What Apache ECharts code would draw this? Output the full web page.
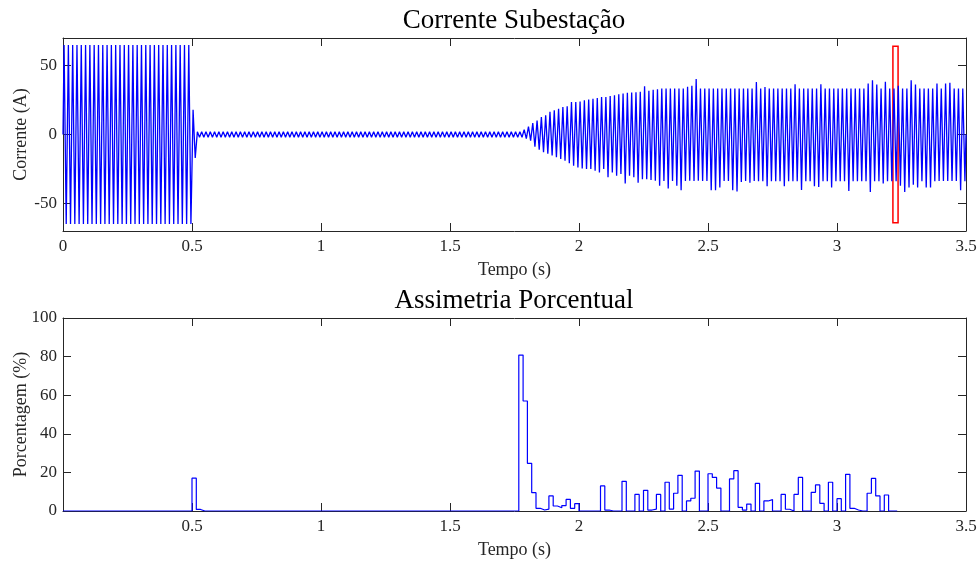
<!DOCTYPE html>
<html>
<head>
<meta charset="utf-8">
<script src="https://cdn.jsdelivr.net/npm/echarts@6/dist/echarts.min.js"></script>
<style>
  html, body { margin: 0; padding: 0; background: #fff; }
  #chart { width: 979px; height: 561px; }
</style>
</head>
<body>
<div id="chart"></div>
<script>
// frequencia da rede (Hz): um pico positivo e um negativo por ciclo
var freq = 60;

// picos positivos por ciclo (A), ciclos 0..209 (0 a 3.5 s)
var posPeak = [
    65, 65, 65, 65, 65, 65, 65, 65, 65, 65, 65, 65, 65, 65, 65,
    65, 65, 65, 65, 65, 65, 65, 65, 65, 65, 65, 65, 65, 65, 65,
    18,
    2, 2, 2, 2, 2, 2, 2, 2, 2, 2, 2, 2, 2, 2, 2, 2, 2, 2, 2,
    2, 2, 2, 2, 2, 2, 2, 2, 2, 2, 2, 2, 2, 2, 2, 2, 2, 2, 2,
    2, 2, 2, 2, 2, 2, 2, 2, 2, 2, 2, 2, 2, 2, 2, 2, 2, 2, 2,
    2, 2, 2, 2, 2, 2, 2, 2, 2, 2, 2, 2, 2, 2, 2, 2, 2, 2, 2,
    3.5,
    5.8, 8.3, 10.2, 12.7, 13.9, 16.4, 17.5, 18.7, 19.9, 20.5, 23.6, 23.6, 24,
    24.8, 25.3, 26, 26.5, 27.2, 27.2, 28, 28.5, 29.2, 29.7, 30.2, 30.4,
    30.6, 31, 34.9, 31.7, 32.4, 32.9, 33.3, 33.3, 33.3, 33.3, 33.3, 33.3, 34.6, 35.3,
    40.2, 33.3, 33.3, 33.3, 33.3, 33.3, 33.3, 33.3, 33.3, 33.3, 33.3, 33.3, 33.3, 33.3,
    38, 33.3, 34.5, 33.3, 33.3, 33.3, 33.3, 33.3, 33.3, 36.4, 33.3, 33.3, 33.3, 33.3,
    33.3, 36.4, 33.3, 33.3, 33.3, 33.3, 33.3, 33.3, 33.3, 33.3, 33.3, 33.3, 36.9, 39.3,
    36.2, 33.3, 38.3, 33.3, 33.3, 35.3, 33.3, 33.3, 39.4, 36.2, 33.3,
    33.3, 33.3, 33.3, 36.9, 33.3, 36.9, 37.5, 33.3, 33.3, 33.3
];

// picos negativos por ciclo (A)
var negPeak = [
    -65, -65, -65, -65, -65, -65, -65, -65, -65, -65, -65, -65, -65, -65, -65,
    -65, -65, -65, -65, -65, -65, -65, -65, -65, -65, -65, -65, -65, -65, -65,
    -17,
    -2, -2, -2, -2, -2, -2, -2, -2, -2, -2, -2, -2, -2, -2, -2, -2, -2, -2, -2,
    -2, -2, -2, -2, -2, -2, -2, -2, -2, -2, -2, -2, -2, -2, -2, -2, -2, -2, -2,
    -2, -2, -2, -2, -2, -2, -2, -2, -2, -2, -2, -2, -2, -2, -2, -2, -2, -2, -2,
    -2, -2, -2, -2, -2, -2, -2, -2, -2, -2, -2, -2, -2, -2, -2, -2, -2, -2, -2,
    -3,
    -4.4, -8.8, -11, -12.9, -14, -15.3, -16.5, -17.8, -19, -20.9, -22.6, -23.9, -24.6,
    -25, -25, -26.3, -27.5, -25, -31, -27.5, -30, -28.7, -35.5, -30, -31,
    -34.9, -32.4, -32.4, -33, -33.5, -37.2, -33.7, -39.2, -33.7, -37.2, -40.4, -33.7, -33.5, -33.7,
    -33.5, -33.7, -33.7, -40.4, -40.4, -38.5, -33.7, -33.7, -40.4, -41.4, -34.5, -33.7, -35, -33.7,
    -33.9, -33.9, -37.5, -33.9, -33.9, -33.9, -37.5, -33.9, -33.9, -33.9, -40.2, -33.9, -33.9, -37.5,
    -38, -33.9, -33.9, -38.5, -33.9, -33.9, -33.9, -41, -33.9, -33.9, -33.9, -33.9, -41.7, -33.9,
    -33.9, -35.5, -33.9, -33.9, -33.9, -37.2, -41.7, -38.5, -36.5, -38.5, -33.9,
    -38.5, -38.5, -33.9, -33.7, -33.7, -33.7, -33.7, -33.7, -40.4, -33.9
];

// assimetria percentual por ciclo (%), ciclos 0..193
var asym = [
    0, 0, 0, 0, 0, 0, 0, 0, 0, 0, 0, 0, 0, 0, 0, 0, 0, 0, 0, 0, 0, 0, 0, 0, 0, 0, 0, 0, 0, 0,
    17, 0.8,
    0, 0, 0, 0, 0, 0, 0, 0, 0, 0, 0, 0, 0, 0, 0, 0, 0, 0, 0, 0, 0, 0, 0, 0, 0, 0, 0, 0, 0, 0, 0, 0, 0, 0, 0, 0, 0,
    0, 0, 0, 0, 0, 0, 0, 0, 0, 0, 0, 0, 0, 0, 0, 0, 0, 0, 0, 0, 0, 0, 0, 0, 0, 0, 0, 0, 0, 0, 0, 0, 0, 0, 0, 0, 0,
    80.8, 57, 24.7, 9.5, 1.4, 0.5, 1, 7.8, 2.6, 1.7,
    2.8, 6, 1.4, 3.8, 0, 0, 0, 0, 0, 13,
    0.5, 0, 0, 0, 15.4, 0, 0, 8.6, 0, 10.7,
    0.5, 1, 8.6, 0, 14.9, 1, 9.2, 18.5, 0, 5.2,
    6.6, 20.7, 0, 0, 19.3, 17.4, 11.9, 0, 0, 16.6,
    20.9, 1.9, 0.5, 3.6, 0, 14.3, 0, 5.2, 5.9, 0,
    0, 8.6, 0.9, 0, 8.6, 17.4, 0, 0, 9.7, 13.5,
    4, 0, 14.9, 0, 6.4, 0, 19, 1.4, 0.5, 0,
    0, 9.2, 16.9, 7.8, 0, 8.3, 0, 0
];

// janela destacada (s) e altura (A)
var janela = [3.2167, 3.2367];
var janelaAmp = 64;

var fonte = 'Liberation Serif';
var cinza = '#262626';

var T = 1 / freq;
var corrente = [[0, 0]];
posPeak.forEach(function (p, k) {
    corrente.push([(k + 0.25) * T, p]);
    corrente.push([(k + 0.75) * T, negPeak[k]]);
});
corrente.push([posPeak.length * T, 0]);

var assimetria = asym.map(function (v, k) { return [k * T, v]; });
assimetria.push([asym.length * T, asym[asym.length - 1]]);

function eixoX(grid, pos, labels, name) {
    return {
        type: 'value', gridIndex: grid, position: pos,
        min: 0, max: 3.5, interval: 0.5,
        name: name, nameLocation: 'middle', nameGap: 30,
        nameTextStyle: { fontFamily: fonte, fontSize: 18, color: cinza },
        axisLine: { show: true, onZero: false, lineStyle: { color: cinza, width: 1 } },
        axisTick: { show: true, inside: true, length: 8, lineStyle: { color: cinza } },
        axisLabel: {
            show: labels, margin: 7, fontFamily: fonte, fontSize: 17, color: cinza,
            showMinLabel: true, showMaxLabel: true,
            formatter: function (v) { return (grid === 1 && v === 0) ? '' : String(v); }
        },
        splitLine: { show: false }
    };
}

function eixoY(grid, pos, labels, min, max, ticks, name) {
    return {
        type: 'value', gridIndex: grid, position: pos,
        min: min, max: max,
        name: name, nameLocation: 'middle', nameGap: 33, nameMoveOverlap: false,
        nameTextStyle: { fontFamily: fonte, fontSize: 18, color: cinza },
        axisLine: { show: true, onZero: false, lineStyle: { color: cinza, width: 1 } },
        axisTick: { show: true, inside: true, length: 8, customValues: ticks, lineStyle: { color: cinza } },
        axisLabel: { show: labels, margin: 6, fontFamily: fonte, fontSize: 17, color: cinza, customValues: ticks },
        splitLine: { show: false }
    };
}

var option = {
    animation: false,
    backgroundColor: '#fff',
    title: [
        { text: 'Corrente Subestação', left: 509, top: 2, textAlign: 'center',
          textStyle: { fontFamily: fonte, fontSize: 27, fontWeight: 'normal', color: '#000' } },
        { text: 'Assimetria Porcentual', left: 509, top: 282, textAlign: 'center',
          textStyle: { fontFamily: fonte, fontSize: 27, fontWeight: 'normal', color: '#000' } }
    ],
    grid: [
        { left: 63, right: 13, top: 38, height: 193, outerBoundsMode: 'none', containLabel: false },
        { left: 63, right: 13, top: 318, height: 193, outerBoundsMode: 'none', containLabel: false }
    ],
    xAxis: [
        eixoX(0, 'bottom', true, 'Tempo (s)'),
        eixoX(0, 'top', false, ''),
        eixoX(1, 'bottom', true, 'Tempo (s)'),
        eixoX(1, 'top', false, '')
    ],
    yAxis: [
        eixoY(0, 'left', true, -70, 70, [-50, 0, 50], 'Corrente (A)'),
        eixoY(0, 'right', false, -70, 70, [-50, 0, 50], ''),
        eixoY(1, 'left', true, 0, 100, [0, 20, 40, 60, 80, 100], 'Porcentagem (%)'),
        eixoY(1, 'right', false, 0, 100, [0, 20, 40, 60, 80, 100], '')
    ],
    series: [
        {
            name: 'corrente', type: 'line', xAxisIndex: 0, yAxisIndex: 0,
            data: corrente, symbol: 'none',
            lineStyle: { color: '#0000ff', width: 1.3 },
            markArea: {
                silent: true,
                itemStyle: { color: 'rgba(0,0,0,0)', borderColor: '#ff0000', borderWidth: 1.5 },
                data: [[{ coord: [janela[0], janelaAmp] }, { coord: [janela[1], -janelaAmp] }]]
            }
        },
        {
            name: 'assimetria', type: 'line', xAxisIndex: 2, yAxisIndex: 2,
            data: assimetria, symbol: 'none', step: 'end',
            lineStyle: { color: '#0000ff', width: 1.2 }
        }
    ]
};

var chart = echarts.init(document.getElementById('chart'));
chart.setOption(option);
</script>
</body>
</html>
